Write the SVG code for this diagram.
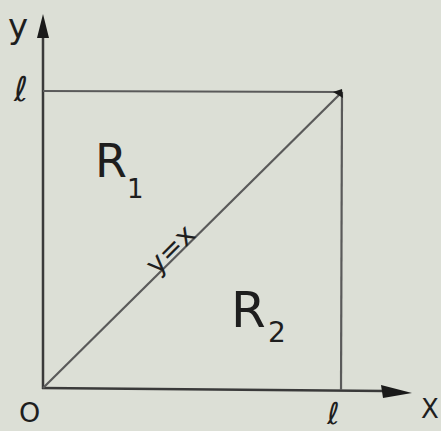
<svg xmlns="http://www.w3.org/2000/svg" width="441" height="431" viewBox="0 0 441 431">
<style>
.ax{stroke:#3a3a3a;stroke-width:2.5;fill:none}
.ln{stroke:#5a5a5a;stroke-width:2.2;fill:none}
.t{font-family:"DejaVu Sans","Liberation Sans",sans-serif;fill:#1e1e1e}
.ah{fill:#1a1a1a}
</style>
<rect width="441" height="431" fill="#dcdfd6"/>
<g id="connectors">
<line class="ax" x1="43" y1="36" x2="43" y2="389"/>
<line class="ax" x1="42" y1="388" x2="385" y2="391"/>
<polygon class="ah" points="43,14 37,38 49,38"/>
<polygon class="ah" points="412,393 381,385 383,398"/>
<line class="ln" x1="43" y1="91" x2="342" y2="92"/>
<line class="ln" x1="342" y1="92" x2="341" y2="390"/>
<line class="ln" x1="43" y1="388" x2="342" y2="92"/>
<polygon class="ah" points="342,89 333,92 343,98"/>
</g>
<g id="labels">
<text class="t" x="8" y="38" font-size="34">y</text>
<text class="t" x="14" y="101" font-size="34">ℓ</text>
<text class="t" x="19" y="422" font-size="27">O</text>
<text class="t" x="327" y="424" font-size="30">ℓ</text>
<text class="t" x="421" y="418" font-size="26">X</text>
</g>
<g id="R1">
<text class="t" x="95" y="177" font-size="46">R</text>
<text class="t" x="127" y="198" font-size="26">1</text>
</g>
<g id="R2">
<text class="t" x="231" y="327" font-size="50">R</text>
<text class="t" x="268" y="342" font-size="28">2</text>
</g>
<g id="diag-label">
<text class="t" x="0" y="0" font-size="28" text-anchor="middle" transform="translate(177,256) rotate(-45)">y=x</text>
</g>
</svg>
